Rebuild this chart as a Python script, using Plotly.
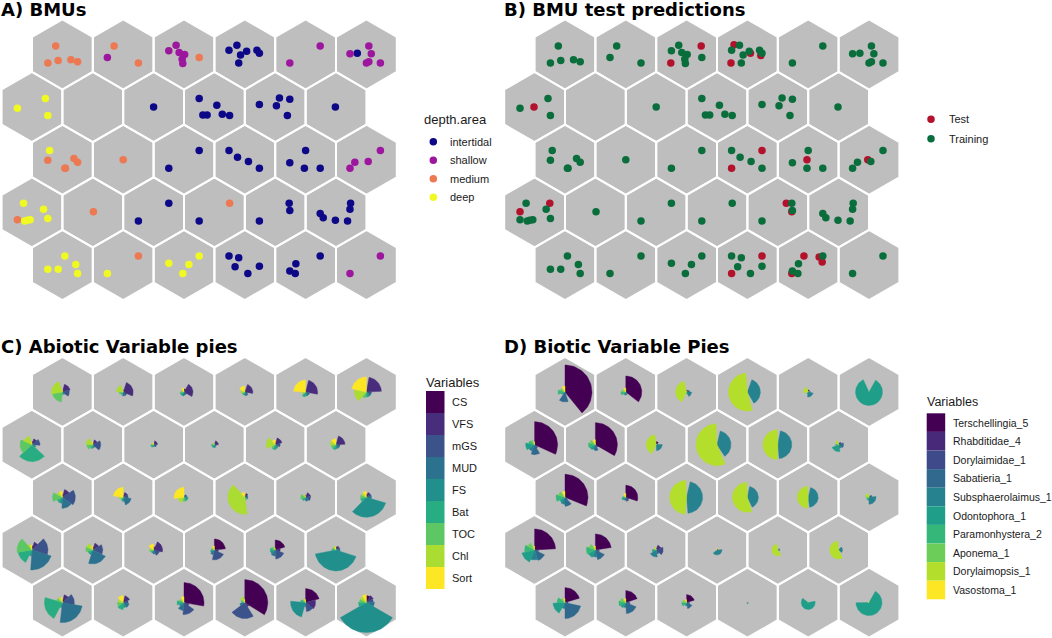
import math
import plotly.graph_objects as go

W, H = 1052, 638
N_ROWS, N_COLS = 5, 6

# ---------------- data: panel A / B (BMU mapping) ----------------
depth_levels = ["intertidal", "shallow", "medium", "deep"]
depth_colors = ["#0D0887", "#9C179E", "#ED7953", "#F0F921"]
set_levels = ["Test", "Training"]
set_colors = ["#B3122D", "#0A6E3C"]

# training samples: SOM cell (row-major, 6 columns) + jitter offset inside the cell
train_cell = [0, 0, 0, 0, 0, 1, 1, 1, 2, 2, 2, 2, 2, 2, 2, 3, 3, 3, 3, 3, 3, 3, 4, 4,
              5, 5, 5, 5, 5, 5, 5, 6, 6, 6, 8, 9, 9, 9, 9, 9, 9, 10, 10, 10, 10, 10, 11,
              12, 12, 12, 12, 12, 12, 13, 14, 14, 15, 15, 15, 15, 16, 16, 16, 16,
              17, 17, 17, 17, 18, 18, 18, 18, 18, 18, 18, 19, 20, 20, 21, 21, 22, 22, 22,
              23, 23, 23, 23, 23, 23, 24, 24, 24, 24, 24, 25, 25, 26, 26, 26, 26,
              27, 27, 27, 27, 27, 28, 28, 28, 28, 29, 29]
train_dx = [-0.11, -0.24, -0.07, 0.14, 0.25, -0.15, -0.26, 0.25,
            -0.13, -0.25, -0.08, 0.01, -0.03, -0.02, 0.25,
            -0.13, -0.26, 0.03, -0.07, 0.20, 0.24, -0.10, 0.24, -0.26,
            0.04, -0.27, 0.08, 0.00, 0.04, 0.23, -0.15, 0.22, -0.24, 0.26, 0.00,
            -0.25, 0.04, -0.19, -0.12, 0.13, 0.25, -0.26, 0.07, 0.24, 0.02, 0.20, -0.01,
            -0.21, -0.24, 0.19, 0.25, 0.05, 0.04, 0.00, 0.25, -0.25,
            -0.26, -0.12, 0.06, 0.24, 0.00, -0.26, -0.02, 0.24,
            0.23, -0.19, 0.03, -0.27, -0.14, 0.19, 0.26, -0.12, -0.08, -0.03, -0.24,
            0.01, 0.25, -0.25, 0.25, -0.25, 0.23, 0.24, -0.26,
            0.24, 0.23, -0.26, -0.21, -0.01, 0.19, 0.04, -0.24, -0.07, 0.22, 0.25,
            0.25, -0.26, 0.25, -0.25, 0.08, -0.02,
            -0.26, -0.10, -0.16, 0.24, 0.05, 0.24, -0.16, -0.26, -0.17, 0.23, -0.27]
train_dy = [0.14, -0.14, -0.10, -0.09, -0.12, 0.14, -0.05, -0.14,
            0.15, 0.06, 0.03, 0.00, -0.08, -0.15, -0.05,
            0.15, 0.07, 0.05, -0.01, 0.07, 0.02, -0.14, 0.14, -0.14,
            0.14, 0.01, 0.01, -0.14, -0.12, -0.14, 0.02, 0.14, -0.02, -0.14, 0.00,
            0.14, 0.03, -0.13, -0.13, -0.12, -0.14, 0.04, 0.15, 0.13, 0.02, -0.14, 0.00,
            0.15, -0.01, 0.02, -0.04, -0.14, -0.14, 0.00, 0.15, -0.14,
            0.15, 0.04, -0.03, -0.14, 0.15, -0.05, -0.14, -0.14,
            0.15, -0.04, -0.03, -0.14, 0.15, 0.05, -0.10, -0.14, -0.13, -0.12, -0.12,
            0.01, 0.15, -0.14, 0.15, -0.14, 0.15, 0.03, -0.14,
            0.15, 0.05, -0.02, -0.09, -0.13, -0.14, 0.15, -0.07, -0.07, 0.01, -0.14,
            0.15, -0.14, 0.15, 0.03, 0.01, -0.14,
            0.15, 0.12, -0.03, -0.02, -0.14, 0.15, 0.02, -0.10, -0.14, 0.15, -0.14]
train_depth = (["medium"] * 5 + ["medium", "shallow", "medium"] + ["shallow"] * 6 + ["medium"]
               + ["intertidal"] * 7 + ["shallow"] * 2 + ["shallow"] * 6 + ["intertidal"]
               + ["deep"] * 3 + ["intertidal"] + ["intertidal"] * 6 + ["intertidal"] * 5
               + ["intertidal"] + ["deep"] + ["medium"] * 5 + ["medium"] + ["intertidal"] * 2
               + ["intertidal"] * 4 + ["intertidal"] * 4 + ["shallow"] * 4
               + ["deep"] * 6 + ["medium"] + ["medium"] + ["intertidal"] * 2
               + ["medium", "intertidal"] + ["intertidal"] * 3 + ["intertidal"] * 6
               + ["deep"] * 5 + ["medium", "deep"] + ["deep"] * 4 + ["intertidal"] * 5
               + ["intertidal"] * 4 + ["shallow"] * 2)

test_cell = [2, 2, 3, 3, 3, 3, 6, 15, 15, 16, 17, 18, 18, 22, 22, 27, 27, 28, 28, 28, 28]
test_dx = [0.24, -0.26, -0.22, 0.05, -0.27, 0.22, -0.01, 0.24, -0.26, -0.02, -0.02,
           0.25, -0.24, 0.14, 0.23, 0.24, -0.26, -0.07, 0.18, 0.23, -0.27]
test_dy = [0.14, -0.14, 0.16, 0.02, -0.14, -0.02, 0.00, 0.15, -0.14, 0.00, 0.00,
           0.15, 0.01, 0.15, 0.01, 0.15, -0.14, 0.15, 0.13, 0.05, -0.14]

# ---------------- data: panel C (abiotic codes, per cell, row-major) ----------------
abiotic_vars = ["CS", "VFS", "mGS", "MUD", "FS", "Bat", "TOC", "Chl", "Sort"]
abiotic_colors = ["#440154", "#472D7B", "#3B528B", "#2C728E", "#21908C",
                  "#27AD81", "#5DC863", "#AADC32", "#FDE725"]
cs = [2, 2, 3, 2, 2, 2, 3, 2, 1, 1, 2, 2, 3, 2, 1, 2, 2, 3, 4, 3, 3, 11, 10, 3, 3, 2, 20, 23, 14, 7]
vfs = [8, 10, 9, 8, 12, 15, 6, 5, 4, 4, 7, 9, 8, 5, 2, 4, 5, 5, 8, 7, 9, 4, 5, 4, 8, 7, 5, 5, 10, 8]
mgs = [7, 4, 3, 3, 4, 5, 8, 8, 3, 2, 5, 4, 13, 5, 3, 3, 5, 5, 16, 10, 6, 10, 9, 4, 12, 5, 12, 16, 9, 7]
mud = [3, 4, 3, 4, 4, 5, 3, 3, 2, 2, 3, 4, 11, 8, 3, 3, 4, 5, 20, 14, 4, 5, 6, 4, 20, 6, 8, 5, 4, 8]
fs = [2, 2, 4, 3, 4, 5, 4, 3, 2, 3, 4, 4, 6, 4, 4, 3, 3, 20, 6, 5, 3, 4, 5, 21, 5, 5, 5, 3, 15, 30]
bat = [3, 3, 4, 3, 5, 5, 17, 4, 3, 3, 5, 5, 6, 3, 4, 2, 4, 6, 14, 5, 3, 3, 5, 4, 18, 7, 7, 3, 5, 8]
toc = [10, 4, 3, 3, 3, 6, 12, 6, 2, 2, 4, 5, 10, 3, 4, 3, 5, 6, 15, 7, 4, 3, 4, 3, 6, 6, 5, 4, 4, 7]
chl = [11, 7, 3, 4, 4, 12, 9, 7, 2, 2, 9, 6, 6, 4, 6, 17, 3, 5, 6, 7, 4, 3, 3, 4, 6, 5, 4, 6, 4, 7]
sort_ = [2.5, 2, 4, 6, 12, 15, 3, 3, 2, 1, 5, 6, 6, 10, 10, 5, 2, 6, 5, 4, 6, 4, 2, 3, 5, 7, 6, 3, 3, 8]

# ---------------- data: panel D (biotic codes, per cell, row-major) ----------------
biotic_vars = ["Terschellingia_5", "Rhabditidae_4", "Dorylaimidae_1", "Sabatieria_1",
               "Subsphaerolaimus_1", "Odontophora_1", "Paramonhystera_2", "Aponema_1",
               "Dorylaimopsis_1", "Vasostoma_1"]
biotic_colors = ["#440154", "#482878", "#3E4A89", "#31688E", "#26828E",
                 "#1F9E89", "#35B779", "#6DCD59", "#B4DE2C", "#FDE725"]
tersch = [27, 16, 2, 0.5, 2, 0.2, 23, 22, 3, 0.3, 0.2, 1, 23, 12, 0.3, 0.2, 0.2, 1,
          21, 16, 2, 1, 0.3, 0.3, 15, 12, 8, 0.2, 0.3, 0.3]
rhabd = [2, 2, 1, 0.5, 1, 0.2, 3, 3, 0.5, 0.3, 0.2, 2, 2, 3, 0.3, 0.2, 0.2, 1,
         3, 3, 5, 0.5, 0.3, 0.3, 3, 3, 2, 0.2, 0.3, 0.3]
doryl = [2, 2, 1, 0.5, 1, 0.3, 4, 3, 0.5, 0.3, 0.2, 3, 3, 4, 0.3, 0.2, 0.2, 1,
         4, 4, 7, 0.5, 0.3, 0.3, 3, 4, 3, 0.2, 0.3, 0.3]
sabat = [10, 3, 3, 0.5, 2, 0.3, 10, 6, 2, 0.5, 0.3, 5, 9, 3, 0.4, 0.3, 0.3, 3,
         11, 10, 4, 1, 0.5, 1, 16, 11, 6, 0.3, 0.5, 0.3]
subsph = [3, 3, 5, 13, 5, 0.3, 7, 5, 6, 14, 14, 4, 7, 3, 16, 11, 10, 7,
          10, 7, 7, 5, 2, 4, 6, 5, 3, 1.0, 1, 0.4]
odonto = [4, 3, 2, 0.5, 2, 13.5, 9, 6, 1, 0.5, 0.3, 7, 6, 4, 0.4, 0.3, 0.3, 3,
          13, 8, 4, 1, 0.3, 0.5, 12, 6, 3, 0.5, 7, 13]
paramon = [7, 5, 1, 0.5, 1, 0.3, 6, 7, 0.5, 0.3, 0.2, 3, 9, 3, 0.3, 0.2, 0.2, 2,
           10, 9, 2, 0.5, 0.3, 0.3, 8, 7, 5, 0.2, 0.5, 0.8]
aponema = [5, 4, 1, 0.5, 1, 0.3, 5, 6, 0.5, 0.3, 0.2, 2, 7, 2, 0.3, 0.2, 0.2, 3,
           8, 7, 2, 0.5, 0.3, 0.3, 5, 6, 4, 0.2, 0.3, 1.2]
dorylaimopsis = [3, 3, 11, 19, 5, 0.3, 2, 3, 10, 21, 15, 4, 2, 2, 17, 15, 11, 4,
                 3, 3, 3, 1, 6, 9, 2, 3, 3, 0.3, 0.3, 1.5]
vasostoma = [6, 4, 1, 0.5, 1, 0.2, 3, 5, 0.5, 0.3, 0.2, 1, 6, 4, 0.3, 0.2, 0.2, 1,
             4, 4, 2, 1.5, 0.3, 0.3, 4, 4, 3, 0.2, 0.5, 1.4]

abiotic_values = [cs, vfs, mgs, mud, fs, bat, toc, chl, sort_]
biotic_values = [tersch, rhabd, doryl, sabat, subsph, odonto, paramon, aponema,
                 dorylaimopsis, vasostoma]

# ---------------- geometry / style ----------------
S = 60.8                  # pixels per hex-grid unit
SQ3 = math.sqrt(3)
HEX_R = 1 / SQ3
HEX_FILL = "#BEBEBE"
CODE_SCALE = 1 / S        # code value -> radius in grid units
TXT = "Liberation Sans, Arial, sans-serif"
TITLE_FONT = dict(family="DejaVu Sans, Verdana, sans-serif", size=18, color="black")


def cell_center(idx):
    r, c = divmod(idx, N_COLS)
    return c + (0.5 if r % 2 == 0 else 0.0), -r * SQ3 / 2


fig = go.Figure()


def hex_trace(xa, ya):
    xs, ys = [], []
    for i in range(N_ROWS * N_COLS):
        cx, cy = cell_center(i)
        for k in range(7):
            a = math.radians(30 + 60 * k)
            xs.append(cx + HEX_R * math.cos(a))
            ys.append(cy + HEX_R * math.sin(a))
        xs.append(None)
        ys.append(None)
    return go.Scatter(x=xs, y=ys, mode="lines", fill="toself", fillcolor=HEX_FILL,
                      line=dict(color="white", width=2), xaxis=xa, yaxis=ya,
                      hoverinfo="skip", showlegend=False)


def point_trace(cells, dxs, dys, color, xa, ya, name):
    xs, ys = [], []
    for c, dx, dy in zip(cells, dxs, dys):
        cx, cy = cell_center(c)
        xs.append(cx + dx)
        ys.append(cy + dy)
    return go.Scatter(x=xs, y=ys, mode="markers", name=name,
                      marker=dict(color=color, size=7.5, line=dict(width=0)),
                      xaxis=xa, yaxis=ya, showlegend=False, cliponaxis=False)


def pie_traces(values, colors, names, xa, ya):
    n_var = len(values)
    paths = [([], []) for _ in range(n_var)]
    for cell in range(N_ROWS * N_COLS):
        vals = [v[cell] for v in values]
        tot = sum(vals)
        cx, cy = cell_center(cell)
        start = 0.0
        for j, v in enumerate(vals):
            span = 360.0 * v / tot
            r = v * CODE_SCALE
            steps = max(2, int(span / 3) + 1)
            xs, ys = paths[j]
            xs.append(cx)
            ys.append(cy)
            for s in range(steps + 1):
                a = math.radians(start + span * s / steps)
                xs.append(cx + r * math.sin(a))
                ys.append(cy + r * math.cos(a))
            xs.append(cx)
            ys.append(cy)
            xs.append(None)
            ys.append(None)
            start += span
    out = []
    for j in range(n_var):
        out.append(go.Scatter(x=paths[j][0], y=paths[j][1], mode="lines", fill="toself",
                              fillcolor=colors[j], line=dict(color=colors[j], width=0.4),
                              name=names[j], xaxis=xa, yaxis=ya, hoverinfo="skip",
                              showlegend=False))
    return out


# panel A
fig.add_trace(hex_trace("x", "y"))
for lev, col in zip(depth_levels, depth_colors):
    idx = [i for i, d in enumerate(train_depth) if d == lev]
    fig.add_trace(point_trace([train_cell[i] for i in idx], [train_dx[i] for i in idx],
                              [train_dy[i] for i in idx], col, "x", "y", lev))
# panel B
fig.add_trace(hex_trace("x2", "y2"))
fig.add_trace(point_trace(test_cell, test_dx, test_dy, set_colors[0], "x2", "y2", "Test"))
fig.add_trace(point_trace(train_cell, train_dx, train_dy, set_colors[1], "x2", "y2", "Training"))
# panel C
fig.add_trace(hex_trace("x3", "y3"))
for t in pie_traces(abiotic_values, abiotic_colors, abiotic_vars, "x3", "y3"):
    fig.add_trace(t)
# panel D
fig.add_trace(hex_trace("x4", "y4"))
for t in pie_traces(biotic_values, biotic_colors, biotic_vars, "x4", "y4"):
    fig.add_trace(t)


def axes(n, px0, px1, py0, py1, ox, oy):
    sx = "" if n == 1 else str(n)
    xr = [(px0 - ox) / S, (px1 - ox) / S]
    yr = [(oy - py1) / S, (oy - py0) / S]
    common = dict(visible=False, showgrid=False, zeroline=False, fixedrange=True)
    return {
        "xaxis" + sx: dict(range=xr, domain=[px0 / W, px1 / W], anchor="y" + sx, **common),
        "yaxis" + sx: dict(range=yr, domain=[1 - py1 / H, 1 - py0 / H], anchor="x" + sx, **common),
    }


layout_axes = {}
layout_axes.update(axes(1, 0, 415, 15, 310, 32.0, 54.4))
layout_axes.update(axes(2, 500, 920, 15, 310, 534.6, 54.4))
layout_axes.update(axes(3, 0, 415, 352, 638, 32.0, 392.0))
layout_axes.update(axes(4, 500, 920, 352, 638, 534.6, 392.0))


def px(x):
    return x / W


def py(y):
    return 1 - y / H


annotations = []
shapes = []


def text(x, y, s, size, font=None, anchor="left"):
    f = dict(family=TXT, size=size, color="#1a1a1a") if font is None else font
    annotations.append(dict(x=px(x), y=py(y), xref="paper", yref="paper", text=s,
                            showarrow=False, xanchor=anchor, yanchor="middle", font=f,
                            borderpad=0))


# titles
text(0, 10, "<b>A) BMUs</b>", 18, TITLE_FONT)
text(503, 10, "<b>B) BMU test predictions</b>", 18, TITLE_FONT)
text(0, 346.5, "<b>C) Abiotic Variable pies</b>", 18, TITLE_FONT)
text(503, 346.5, "<b>D) Biotic Variable Pies</b>", 18, TITLE_FONT)


def dot(x, y, col, d=7.5):
    shapes.append(dict(type="circle", xref="paper", yref="paper", xsizemode="pixel",
                       ysizemode="pixel", xanchor=px(x), yanchor=py(y),
                       x0=-d / 2, x1=d / 2, y0=-d / 2, y1=d / 2,
                       fillcolor=col, line=dict(width=0)))


# legend A
text(423, 120, "depth.area", 13)
for i, (lev, col) in enumerate(zip(depth_levels, depth_colors)):
    y = 141.7 + 18.5 * i
    dot(433.3, y, col)
    text(448.5, y, lev, 11)

# legend B
for i, (lev, col) in enumerate(zip(set_levels, set_colors)):
    y = 119.3 + 19.4 * i
    dot(931, y, col)
    text(947.5, y, lev, 11)


def swatch_legend(x0, ytitle, ytop, key_w, key_h, names, colors, tsize, lsize):
    text(x0 - 1, ytitle, "Variables", tsize)
    for i, (nm, col) in enumerate(zip(names, colors)):
        y0 = ytop + key_h * i
        shapes.append(dict(type="rect", xref="paper", yref="paper",
                           x0=px(x0), x1=px(x0 + key_w), y0=py(y0 + key_h), y1=py(y0),
                           fillcolor=col, line=dict(width=0)))
        text(x0 + key_w + 6.5, y0 + key_h / 2, nm, lsize)


swatch_legend(426, 382, 391, 18.5, 22, abiotic_vars, abiotic_colors, 13, 11)
swatch_legend(926.7, 401.7, 413.3, 18.5, 18.6, biotic_vars, biotic_colors, 12.5, 10.5)

fig.update_layout(
    width=W, height=H, margin=dict(l=0, r=0, t=0, b=0),
    paper_bgcolor="white", plot_bgcolor="white", showlegend=False,
    annotations=annotations, shapes=shapes, **layout_axes,
)

fig.write_html("out.html",
               config={"displayModeBar": False, "staticPlot": True},
               post_script="document.body.style.margin='0px';"
                           "document.body.style.overflow='hidden';")
